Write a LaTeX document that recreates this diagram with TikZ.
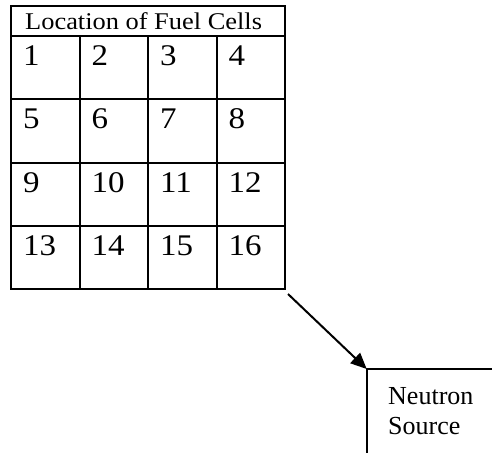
\documentclass[tikz,border=0pt]{standalone}
\usepackage{fontspec}
\setmainfont{Liberation Serif}
\usetikzlibrary{arrows.meta,calc}
\begin{document}
\begin{tikzpicture}[x=1pt,y=-1pt,
  frame/.style={draw=black,line width=2pt},
  cellbox/.style={frame,rectangle,minimum width=68.5pt,minimum height=63.25pt,
    inner sep=0pt,anchor=north west},
  cellnum/.style={anchor=base west,inner sep=0pt,
    font=\fontsize{30}{30}\selectfont},
  titletext/.style={anchor=base west,inner sep=0pt,
    font=\fontsize{24}{24}\selectfont},
  srctext/.style={anchor=north west,inner sep=0pt,align=left,
    font=\fontsize{26}{30}\selectfont},
  pointer/.style={draw=black,line width=2pt,
    -{Stealth[length=16pt,width=14pt,inset=0pt]}}]
\useasboundingbox (0,0) rectangle (492,453);

% header row
\node[frame,rectangle,minimum width=274pt,minimum height=30.5pt,
  inner sep=0pt,anchor=north west] (head) at (10,4.5) {};
\node[titletext] (title) at (25,29.5)
  {\scalebox{1.1}[1]{Location of Fuel Cells}};

% 4x4 grid of numbered cells
\foreach \r in {0,...,3}{
  \foreach \c in {0,...,3}{
    \pgfmathtruncatemacro\k{4*\r+\c+1}
    \node[cellbox] (c\k) at ({10+68.5*\c},{35+63.25*\r}) {};
    \node[cellnum] (n\k) at ($(c\k.north west)+(13,30.5)$)
      {\scalebox{1.1}[1]{\k}};
  }
}

% neutron source, open box corner
\coordinate (srccorner) at (366.7,369);
\draw[frame] (492,369) -- (srccorner) -- (366.7,453);
\node[srctext] (src) at (388,387.5) {Neutron\\Source};

% arrow from the grid to the source
\draw[pointer] ($(c16.south east)+(2,4)$) -- (srccorner);
\end{tikzpicture}
\end{document}
